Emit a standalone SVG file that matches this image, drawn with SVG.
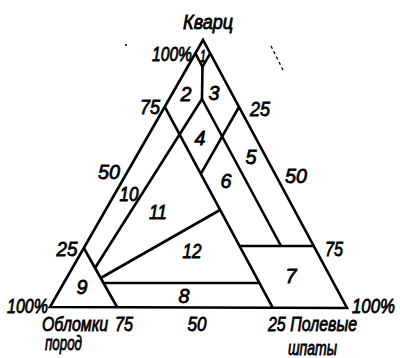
<svg xmlns="http://www.w3.org/2000/svg" width="400" height="358" viewBox="0 0 400 358">
<style>
.ln{fill:none;stroke:#000;stroke-width:2.6;stroke-linejoin:miter;stroke-linecap:butt}
text{font-family:"Liberation Sans",sans-serif;font-style:italic;font-size:20px;fill:#000;stroke:#000;stroke-width:0.8}
.m{text-anchor:middle}
</style>
<rect width="400" height="358" fill="#fff"/>
<g id="connectors">
<polygon class="ln" points="203,40 50,307 347,308"/>
<polyline class="ln" points="195.4,53.4 202.5,66.8 210.2,53.4"/>
<line class="ln" x1="202.5" y1="66.8" x2="202" y2="99"/>
<line class="ln" x1="202" y1="99" x2="95" y2="268"/>
<line class="ln" x1="202" y1="99" x2="281" y2="246"/>
<line class="ln" x1="164.8" y1="106.8" x2="272.8" y2="307.8"/>
<line class="ln" x1="239" y1="107" x2="200.8" y2="173.8"/>
<line class="ln" x1="239.6" y1="246" x2="313.6" y2="246"/>
<line class="ln" x1="103.5" y1="283" x2="259.4" y2="283"/>
<line class="ln" x1="100.7" y1="278" x2="220" y2="210"/>
<line class="ln" x1="83.8" y1="248" x2="117" y2="307"/>
</g>
<g id="specks">
<circle cx="126" cy="45" r="1.1" fill="#000"/>
<line x1="271" y1="46" x2="284" y2="72" stroke="#000" stroke-width="1.3" stroke-dasharray="3,3"/>
</g>
<g id="region-labels">
<text id="r1" class="m" x="203" y="62" style="font-size:16px" textLength="6" lengthAdjust="spacingAndGlyphs">1</text>
<text id="r2" class="m" x="186" y="101" textLength="11" lengthAdjust="spacingAndGlyphs">2</text>
<text id="r3" class="m" x="214" y="100" textLength="11" lengthAdjust="spacingAndGlyphs">3</text>
<text id="r4" class="m" x="200" y="145" textLength="11" lengthAdjust="spacingAndGlyphs">4</text>
<text id="r5" class="m" x="251" y="164" textLength="11" lengthAdjust="spacingAndGlyphs">5</text>
<text id="r6" class="m" x="226" y="188" textLength="11" lengthAdjust="spacingAndGlyphs">6</text>
<text id="r7" class="m" x="291" y="283" textLength="11" lengthAdjust="spacingAndGlyphs">7</text>
<text id="r8" class="m" x="184" y="303" textLength="11" lengthAdjust="spacingAndGlyphs">8</text>
<text id="r9" class="m" x="82" y="294" textLength="11" lengthAdjust="spacingAndGlyphs">9</text>
<text id="r10" class="m" x="129" y="201" textLength="19" lengthAdjust="spacingAndGlyphs">10</text>
<text id="r11" class="m" x="158" y="219" textLength="18" lengthAdjust="spacingAndGlyphs">11</text>
<text id="r12" class="m" x="192" y="258" textLength="19" lengthAdjust="spacingAndGlyphs">12</text>
</g>
<g id="axis-labels">
<text id="quartz" class="m" x="208" y="29" textLength="50" lengthAdjust="spacingAndGlyphs">Кварц</text>
<text class="m" x="172" y="61" textLength="40" lengthAdjust="spacingAndGlyphs">100%</text>
<text class="m" x="150" y="114" textLength="20" lengthAdjust="spacingAndGlyphs">75</text>
<text class="m" x="109" y="179" textLength="22" lengthAdjust="spacingAndGlyphs">50</text>
<text class="m" x="67" y="256" textLength="21" lengthAdjust="spacingAndGlyphs">25</text>
<text class="m" x="27.5" y="313" textLength="41" lengthAdjust="spacingAndGlyphs">100%</text>
<text x="42" y="331" textLength="66" lengthAdjust="spacingAndGlyphs">Обломки</text>
<text x="45" y="350" textLength="37" lengthAdjust="spacingAndGlyphs">пород</text>
<text class="m" x="124" y="331" textLength="18" lengthAdjust="spacingAndGlyphs">75</text>
<text class="m" x="197" y="331" textLength="19" lengthAdjust="spacingAndGlyphs">50</text>
<text x="268" y="331" textLength="89" lengthAdjust="spacingAndGlyphs">25 Полевые</text>
<text x="288" y="355" textLength="49" lengthAdjust="spacingAndGlyphs">шпаты</text>
<text x="352" y="313" textLength="43" lengthAdjust="spacingAndGlyphs">100%</text>
<text class="m" x="260" y="116" textLength="20" lengthAdjust="spacingAndGlyphs">25</text>
<text class="m" x="296" y="183" textLength="22" lengthAdjust="spacingAndGlyphs">50</text>
<text class="m" x="334" y="256" textLength="18" lengthAdjust="spacingAndGlyphs">75</text>
</g>
</svg>
